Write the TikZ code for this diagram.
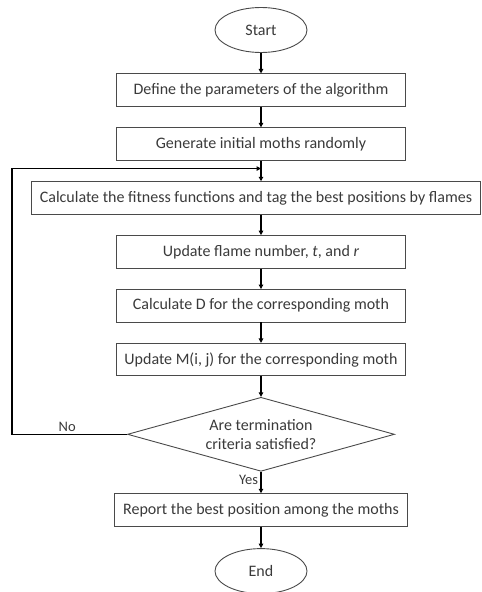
\documentclass[tikz,border=0pt]{standalone}
\usepackage{fontspec}
\setmainfont{Carlito}
\usepackage{tikz}
\usetikzlibrary{arrows.meta,positioning,calc,shapes.geometric}
\definecolor{ink}{HTML}{3A3A3A}
\definecolor{rim}{HTML}{4A4A4A}

\begin{document}
\begin{tikzpicture}[every node/.style={font=\fontsize{16}{18.5}\selectfont,text=ink,align=center},
  stepbox/.style={draw=rim,line width=0.9pt,minimum width=#1,minimum height=32.5pt,inner sep=2pt},
  term/.style={ellipse,draw=rim,line width=0.9pt,minimum width=92pt,minimum height=45pt,inner sep=1pt},
  decide/.style={diamond,draw=rim,line width=0.9pt,aspect=3.56,inner sep=0pt,minimum width=267pt,minimum height=74pt},
  flow/.style={-{Triangle[length=4.5pt,width=4.5pt]},line width=1.4pt,black},
  node distance=20.5pt]
\useasboundingbox (0,0) rectangle (482pt,-592pt);
\node[term] (start) at (261pt,-30pt) {Start};
\node[stepbox=289pt,below=of start] (param) {Define the parameters of the algorithm};
\node[stepbox=289pt,below=of param] (init) {Generate initial moths randomly};
\node[stepbox=449pt,below=of init,xshift=-5pt] (fit) {Calculate the fitness functions and tag the best positions by flames};
\node[stepbox=289pt,below=of fit.south-|init.south] (flame) {Update flame number, \textit{t}, and \textit{r}};
\node[stepbox=289pt,below=of flame] (dist) {Calculate D for the corresponding moth};
\node[stepbox=289pt,below=of dist] (pos) {Update M(i, j) for the corresponding moth};
\node[decide,below=of pos] (stop) {Are termination\\criteria satisfied?};
\node[stepbox=293pt,below=21.5pt of stop] (best) {Report the best position among the moths};
\node[term,below=21.5pt of best] (end) {End};
\coordinate (join) at ($(init.south)!0.38!(init.south|-fit.north)$);
% main chain
\draw[flow] (start) -- (param);
\draw[flow] (param) -- (init);
\draw[flow] (init.south) -- (init.south|-fit.north);
\draw[flow] (fit.south-|flame.north) -- (flame);
\draw[flow] (flame) -- (dist);
\draw[flow] (dist) -- (pos);
\draw[flow] (pos) -- (stop);
\draw[flow] (stop) -- node[left=-1pt,pos=0.4,font=\fontsize{14.5}{16}\selectfont]{Yes} (best);
\draw[flow] (best) -- (end);
% loop back
\draw[flow] (stop.west) -- node[above=-1pt,pos=0.52,font=\fontsize{14.5}{16}\selectfont]{No} ++(-115pt,0) |- (join);
\end{tikzpicture}
\end{document}
